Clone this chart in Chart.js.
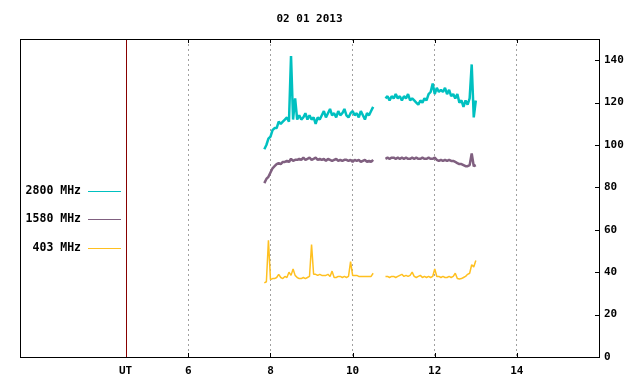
<!DOCTYPE html>
<html>
<head>
<meta charset="utf-8">
<script src="https://cdn.jsdelivr.net/npm/chart.js@4"></script>
<style>
  html, body { margin: 0; padding: 0; background: #fff; }
  #wrap { width: 640px; height: 384px; }
</style>
</head>
<body>
<div id="wrap"><canvas id="flux"></canvas></div>
<script>
// Title and axis setup
const titleText = '02 01 2013';
const xTicks = [4.47, 6, 8, 10, 12, 14];
const xTickLabels = ['UT', '6', '8', '10', '12', '14'];
const yTicks = [0, 20, 40, 60, 80, 100, 120, 140];

// Times (UT hours) of the two observing runs
const timesA = [7.85, 7.9, 7.95, 8, 8.05, 8.1, 8.15, 8.2, 8.25, 8.3,
  8.35, 8.4, 8.45, 8.5, 8.55, 8.6, 8.65, 8.7, 8.75, 8.8,
  8.85, 8.9, 8.95, 9, 9.05, 9.1, 9.15, 9.2, 9.25, 9.3,
  9.35, 9.4, 9.45, 9.5, 9.55, 9.6, 9.65, 9.7, 9.75, 9.8,
  9.85, 9.9, 9.95, 10, 10.05, 10.1, 10.15, 10.2, 10.25, 10.3,
  10.35, 10.4, 10.45, 10.5];
const timesB = [10.8, 10.85, 10.9, 10.95, 11, 11.05, 11.1, 11.15, 11.2, 11.25,
  11.3, 11.35, 11.4, 11.45, 11.5, 11.55, 11.6, 11.65, 11.7, 11.75,
  11.8, 11.85, 11.9, 11.95, 12, 12.05, 12.1, 12.15, 12.2, 12.25,
  12.3, 12.35, 12.4, 12.45, 12.5, 12.55, 12.6, 12.65, 12.7, 12.75,
  12.8, 12.85, 12.9, 12.95, 13];

// 2800 MHz flux
const mhz2800A = [98, 100, 103, 104, 107, 108, 108, 111, 110, 111,
  112, 113, 111, 142, 112, 122, 112, 114, 112, 113,
  115, 112, 114, 112, 113, 110, 113, 112, 114, 116,
  113, 115, 117, 114, 115, 113, 116, 114, 115, 117,
  114, 113, 115, 116, 114, 115, 113, 116, 114, 112,
  115, 114, 116, 118];
const mhz2800B = [122, 123, 121, 123, 122, 124, 122, 123, 121, 123,
  122, 124, 121, 122, 121, 120, 119, 121, 120, 122,
  121, 124, 125, 129, 124, 127, 125, 126, 125, 127,
  124, 126, 123, 124, 122, 124, 120, 121, 118, 121,
  119, 122, 138, 113, 121];

// 1580 MHz flux
const mhz1580A = [82, 84, 85, 87, 89, 90, 91, 91.5, 91, 92,
  92, 92.5, 92, 93.5, 92.5, 93, 93, 93.5, 93, 94,
  93, 93.5, 94, 93, 93.5, 94, 93, 93.5, 93, 93.5,
  92.5, 93.5, 93, 92.5, 93, 93.5, 92.5, 93, 92.5, 93,
  93, 92.5, 93, 92, 93, 92.5, 93, 92, 92.5, 93,
  92, 92.5, 92, 93];
const mhz1580B = [93.5, 94, 93.5, 94, 94, 93.5, 94, 93.5, 94, 93.5,
  94, 93.5, 93.5, 94, 93.5, 94, 93.5, 93.5, 94, 93.5,
  93.5, 94, 93.5, 93.5, 94, 93, 92.5, 93, 92.5, 93,
  92.5, 93, 92.5, 92.5, 92, 91.5, 91, 91, 90.5, 90,
  90, 90.5, 96, 90, 90.5];

// 403 MHz flux
const mhz403A = [35, 35.5, 55, 36.5, 37, 37, 37.5, 39, 37.5, 37,
  38, 37.5, 40, 38.5, 41.5, 38.5, 37.5, 37, 37, 37.5,
  37, 37.5, 38, 53, 39, 39, 38.5, 39, 38.5, 38.5,
  38.5, 39, 38, 40.5, 37.5, 37.5, 38, 38, 37.5, 38,
  37.5, 38, 45, 38.5, 38.5, 38.5, 38, 38, 38, 38,
  38, 38, 38, 39.5];
const mhz403B = [38, 38, 37.5, 38, 38, 37.5, 38, 38.5, 39, 38,
  38.5, 38, 38.5, 40, 38, 37.5, 38, 38.5, 37.5, 38,
  37.5, 38, 37.5, 38, 41.5, 38, 38, 37.5, 38, 37.5,
  37.5, 38, 37.5, 38, 39.5, 37, 36.8, 37, 37.5, 38,
  39, 39.5, 43.5, 42.5, 45.5];

const seriesNames = ['2800 MHz', '1580 MHz', '403 MHz'];
const seriesColors = ['#00c0c0', '#806080', '#ffc020'];
const seriesWidths = [2.5, 2.5, 1.5];

// join the two runs with a null point so the line breaks in the gap
function points(a, b) {
  const pts = timesA.map((t, i) => ({ x: t, y: a[i] }));
  pts.push({ x: 10.65, y: null });
  timesB.forEach((t, i) => pts.push({ x: t, y: b[i] }));
  return pts;
}

const FAMILY = '"DejaVu Sans Mono", "Liberation Mono", monospace';
const FONT = { family: FAMILY, size: 11, weight: 'bold' };

// title, frame, inner ticks, UT line and the left-hand legend
const decorations = {
  id: 'decorations',
  afterDraw(chart) {
    const { ctx, chartArea: a, scales } = chart;
    const xs = scales.x, ys = scales.y;
    ctx.save();
    ctx.lineWidth = 1;

    ctx.fillStyle = '#000';
    ctx.font = 'bold 11px ' + FAMILY;
    ctx.textAlign = 'center';
    ctx.textBaseline = 'middle';
    ctx.fillText(titleText, (a.left + a.right) / 2, 19);

    // UT marker
    const ux = Math.round(xs.getPixelForValue(xTicks[0])) + 0.5;
    ctx.strokeStyle = '#880000';
    ctx.beginPath();
    ctx.moveTo(ux, a.top);
    ctx.lineTo(ux, a.bottom);
    ctx.stroke();

    ctx.strokeStyle = '#000';
    ctx.beginPath();
    xTicks.slice(1).forEach(v => {
      const px = Math.round(xs.getPixelForValue(v)) + 0.5;
      ctx.moveTo(px, a.top); ctx.lineTo(px, a.top + 4);
      ctx.moveTo(px, a.bottom); ctx.lineTo(px, a.bottom - 4);
    });
    yTicks.forEach(v => {
      const py = Math.round(ys.getPixelForValue(v)) + 0.5;
      ctx.moveTo(a.right, py); ctx.lineTo(a.right - 4, py);
    });
    ctx.stroke();

    ctx.strokeRect(Math.round(a.left) + 0.5, Math.round(a.top) + 0.5,
      Math.round(a.right - a.left), Math.round(a.bottom - a.top));

    // legend
    ctx.font = 'bold 11.5px ' + FAMILY;
    ctx.textAlign = 'right';
    const rows = [191.5, 219.5, 248.5];
    chart.data.datasets.forEach((ds, i) => {
      ctx.fillStyle = '#000';
      ctx.fillText(ds.label, 81, rows[i]);
      ctx.strokeStyle = ds.borderColor;
      ctx.beginPath();
      ctx.moveTo(88, rows[i]);
      ctx.lineTo(121, rows[i]);
      ctx.stroke();
    });
    ctx.restore();
  }
};

new Chart(document.getElementById('flux'), {
  type: 'line',
  data: {
    datasets: seriesNames.map((name, i) => ({
      label: name,
      data: [points(mhz2800A, mhz2800B), points(mhz1580A, mhz1580B), points(mhz403A, mhz403B)][i],
      borderColor: seriesColors[i],
      borderWidth: seriesWidths[i]
    }))
  },
  options: {
    responsive: true,
    maintainAspectRatio: false,
    animation: false,
    spanGaps: false,
    elements: {
      line: { tension: 0, borderJoinStyle: 'bevel' },
      point: { radius: 0 }
    },
    layout: { padding: { left: 20, right: 0, top: 39, bottom: 0 } },
    plugins: {
      legend: { display: false },
      tooltip: { enabled: false },
      title: { display: false }
    },
    scales: {
      x: {
        type: 'linear',
        min: 1.9,
        max: 16,
        afterBuildTicks: s => { s.ticks = xTicks.map(v => ({ value: v })); },
        afterFit: s => { s.height = 27; },
        ticks: {
          color: '#000',
          font: FONT,
          padding: 8,
          maxRotation: 0,
          autoSkip: false,
          callback: (v, i) => xTickLabels[i]
        },
        grid: {
          drawTicks: false,
          color: c => (c.tick && c.tick.value === xTicks[0]) ? 'rgba(0,0,0,0)' : '#a0a0a0'
        },
        border: { display: true, color: '#000', dash: [2, 3] }
      },
      y: {
        position: 'right',
        min: 0,
        max: 150,
        afterBuildTicks: s => { s.ticks = yTicks.map(v => ({ value: v })); },
        afterFit: s => { s.width = 41; },
        ticks: { color: '#000', font: FONT, padding: 5 },
        grid: { display: false, drawTicks: false },
        border: { display: true, color: '#000' }
      }
    }
  },
  plugins: [decorations]
});
</script>
</body>
</html>
